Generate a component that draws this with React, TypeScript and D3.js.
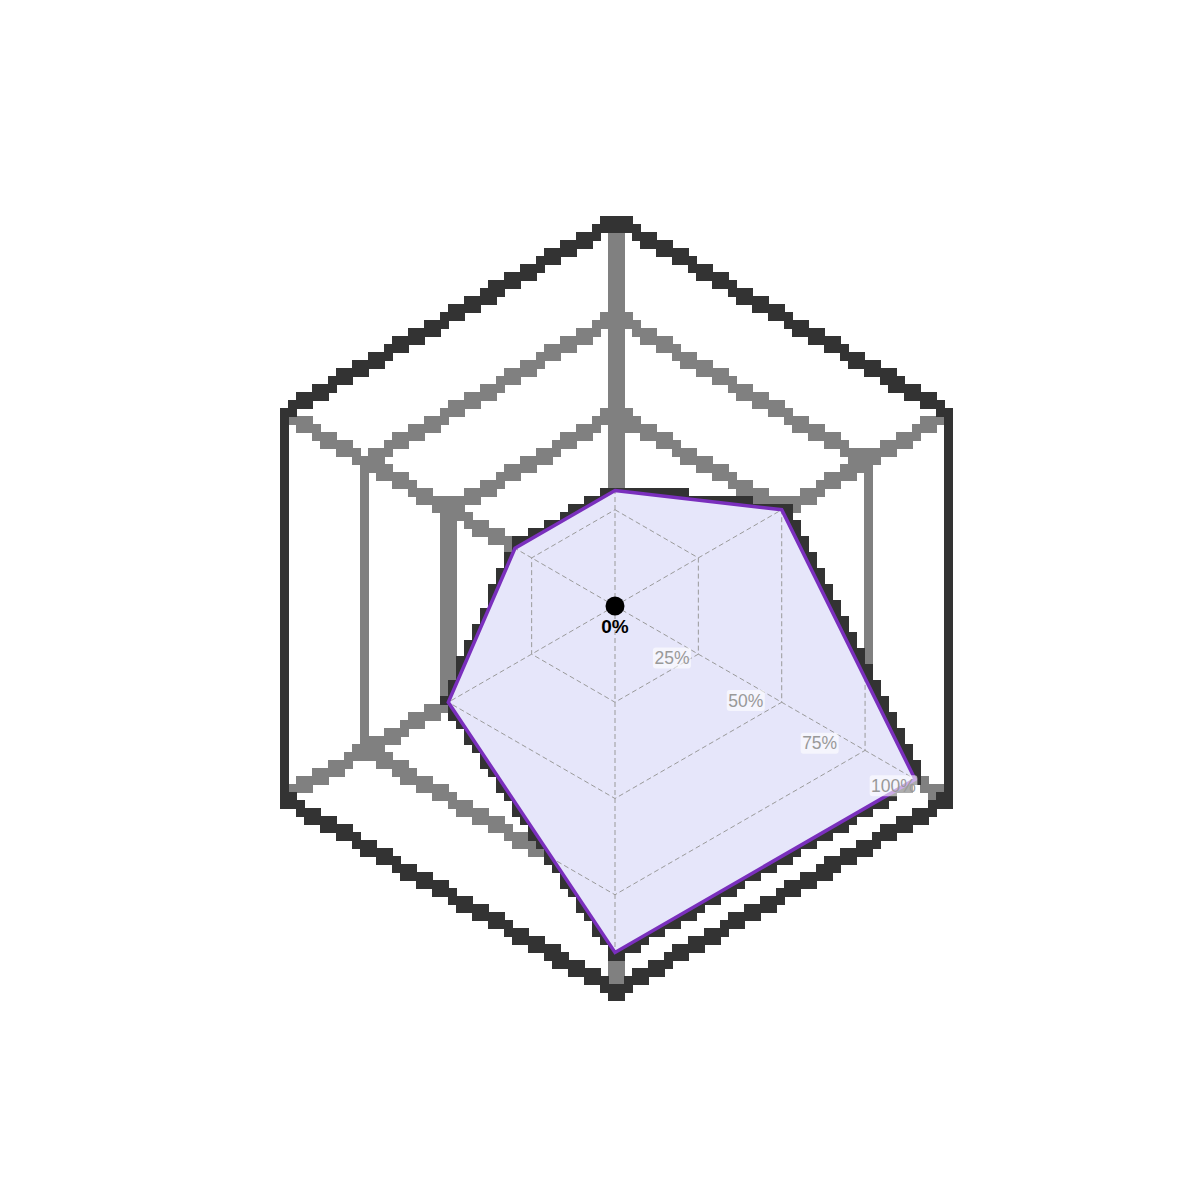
import React, { useEffect, useRef } from 'react';
import * as d3 from 'd3';

// ---- data ----
const categories = ['Axis 1', 'Axis 2', 'Axis 3', 'Axis 4', 'Axis 5', 'Axis 6'];
const values = [0.3, 0.5, 0.9, 0.9, 0.5, 0.3];
const gridLevels = [0.25, 0.5, 0.75, 1];
const tickLabels = ['25%', '50%', '75%', '100%'];
const thickGrayLevels = [0.25, 0.5, 0.75];
const outerLevel = 1;
const centerLabel = '0%';

const W = 1200;
const H = 1200;
const CX = 615;
const CY = 606;
const R = 385;
const PX_SHIFT = 1.3;
const FONT = '"Liberation Sans", Arial, Helvetica, sans-serif';

export default function App() {
  const ref = useRef<SVGSVGElement>(null);

  useEffect(() => {
    const svg = d3.select(ref.current as SVGSVGElement);
    svg.selectAll('*').remove();
    const n = categories.length;
    const r = d3.scaleLinear().domain([0, 1]).range([0, R]);
    const angle = d3.scaleLinear().domain([0, n]).range([0, 2 * Math.PI]);

    const ring = (lv: number) =>
      d3
        .lineRadial<string>()
        .angle((_, i) => angle(i))
        .radius(() => r(lv))
        .curve(d3.curveLinearClosed)(categories) as string;
    const polyPath = d3
      .lineRadial<number>()
      .angle((_, i) => angle(i))
      .radius((d) => r(d))
      .curve(d3.curveLinearClosed)(values) as string;
    const pt = (i: number, v: number): [number, number] => [
      Math.sin(angle(i)) * r(v),
      -Math.cos(angle(i)) * r(v),
    ];

    // defs: low-resolution (8px block) rendering filter
    const defs = svg.append('defs');
    const f = defs
      .append('filter')
      .attr('id', 'px')
      .attr('filterUnits', 'userSpaceOnUse')
      .attr('primitiveUnits', 'userSpaceOnUse')
      .attr('x', 0)
      .attr('y', 0)
      .attr('width', W)
      .attr('height', H)
      .attr('color-interpolation-filters', 'sRGB');
    f.append('feMorphology')
      .attr('in', 'SourceGraphic')
      .attr('operator', 'dilate')
      .attr('radius', 4)
      .attr('result', 'grown');
    f.append('feFlood')
      .attr('x', 4)
      .attr('y', 4)
      .attr('width', 1)
      .attr('height', 1)
      .attr('flood-color', '#000')
      .attr('flood-opacity', 1)
      .attr('result', 'dot');
    f.append('feComposite')
      .attr('in', 'dot')
      .attr('in2', 'dot')
      .attr('x', 0)
      .attr('y', 0)
      .attr('width', 8)
      .attr('height', 8)
      .attr('result', 'cell');
    f.append('feTile').attr('in', 'cell').attr('result', 'tile');
    f.append('feComposite')
      .attr('in', 'grown')
      .attr('in2', 'tile')
      .attr('operator', 'in')
      .attr('result', 'sampled');
    f.append('feMorphology').attr('in', 'sampled').attr('operator', 'dilate').attr('radius', 4);

    defs.append('clipPath').attr('id', 'polyClip').append('path').attr('d', polyPath);

    const drawDashed = (g: d3.Selection<SVGGElement, unknown, null, undefined>) => {
      g.selectAll('path.ring')
        .data(gridLevels)
        .join('path')
        .attr('class', 'ring')
        .attr('d', (lv) => ring(lv))
        .attr('fill', 'none')
        .attr('stroke', '#9a9a9a')
        .attr('stroke-width', 1)
        .attr('stroke-dasharray', '5,3');
      g.selectAll('line.spoke')
        .data(categories)
        .join('line')
        .attr('class', 'spoke')
        .attr('x1', 0)
        .attr('y1', 0)
        .attr('x2', (_, i) => pt(i, outerLevel)[0])
        .attr('y2', (_, i) => pt(i, outerLevel)[1])
        .attr('stroke', '#9a9a9a')
        .attr('stroke-width', 1)
        .attr('stroke-dasharray', '5,3');
    };

    // 1. dashed grid (under)
    drawDashed(svg.append('g').attr('transform', `translate(${CX},${CY})`));

    // 2. pixelated thick layers (gray grid, then dark frame + data outline)
    const pxLayer = () =>
      svg
        .append('g')
        .attr('filter', 'url(#px)')
        .append('g')
        .attr('transform', `translate(${CX + PX_SHIFT},${CY})`)
        .style('shape-rendering', 'crispEdges');
    const SW = 3;
    const grayG = pxLayer();
    grayG
      .selectAll('line')
      .data(categories)
      .join('line')
      .attr('x1', 0)
      .attr('y1', 0)
      .attr('x2', (_, i) => pt(i, outerLevel)[0])
      .attr('y2', (_, i) => pt(i, outerLevel)[1])
      .attr('stroke', '#808080')
      .attr('stroke-width', SW);
    grayG
      .selectAll('path.gray')
      .data(thickGrayLevels)
      .join('path')
      .attr('class', 'gray')
      .attr('d', (lv) => ring(lv))
      .attr('fill', 'none')
      .attr('stroke', '#808080')
      .attr('stroke-width', SW);
    const darkG = pxLayer();
    darkG.append('path')
      .attr('d', ring(outerLevel))
      .attr('fill', 'none')
      .attr('stroke', '#333333')
      .attr('stroke-width', SW)
      .attr('stroke-linejoin', 'miter');
    darkG.append('path')
      .attr('d', polyPath)
      .attr('fill', 'none')
      .attr('stroke', '#333333')
      .attr('stroke-width', SW)
      .attr('stroke-linejoin', 'miter');

    const main = svg.append('g').attr('transform', `translate(${CX},${CY})`);
    // 3. polygon fill
    main.append('path').attr('d', polyPath).attr('fill', '#e6e6fa').attr('stroke', 'none');
    // 4. dashed grid clipped to polygon
    drawDashed(main.append('g').attr('clip-path', 'url(#polyClip)'));
    // 5. polygon stroke
    main.append('path')
      .attr('d', polyPath)
      .attr('fill', 'none')
      .attr('stroke', '#7a2fbd')
      .attr('stroke-width', 3.5)
      .attr('stroke-linejoin', 'miter');

    // 6. tick labels along lower-right spoke (offset)
    const axisIdx = 2;
    const dir = pt(axisIdx, 1).map((v) => v / R) as [number, number];
    const perp: [number, number] = [-dir[1], dir[0]];
    tickLabels.forEach((t, k) => {
      const along = r(gridLevels[k]) * 0.886 - 10;
      const x = dir[0] * along + perp[0] * 16.5;
      const y = dir[1] * along + perp[1] * 16.5;
      const lg = main.append('g');
      const rect = lg.append('rect').attr('fill', '#ffffff').attr('fill-opacity', 0.6).attr('rx', 3);
      const txt = lg
        .append('text')
        .attr('x', x)
        .attr('y', y)
        .attr('text-anchor', 'middle')
        .attr('dominant-baseline', 'central')
        .attr('font-family', FONT)
        .attr('font-size', 17.5)
        .attr('fill', '#999999')
        .text(t);
      const bb = (txt.node() as SVGTextElement).getBBox();
      rect
        .attr('x', bb.x - 1.5)
        .attr('y', bb.y - 0.5)
        .attr('width', bb.width + 3)
        .attr('height', bb.height + 1);
    });

    // 7. center dot + label
    main.append('circle').attr('cx', 0).attr('cy', 0).attr('r', 9.5).attr('fill', '#000');
    main.append('text')
      .attr('x', 0)
      .attr('y', 27)
      .attr('text-anchor', 'middle')
      .attr('font-family', FONT)
      .attr('font-weight', 'bold')
      .attr('font-size', 19)
      .attr('fill', '#000')
      .text(centerLabel);
  }, []);

  return (
    <svg
      ref={ref}
      width={W}
      height={H}
      style={{ position: 'absolute', left: 0, top: 0, background: '#ffffff' }}
    />
  );
}
